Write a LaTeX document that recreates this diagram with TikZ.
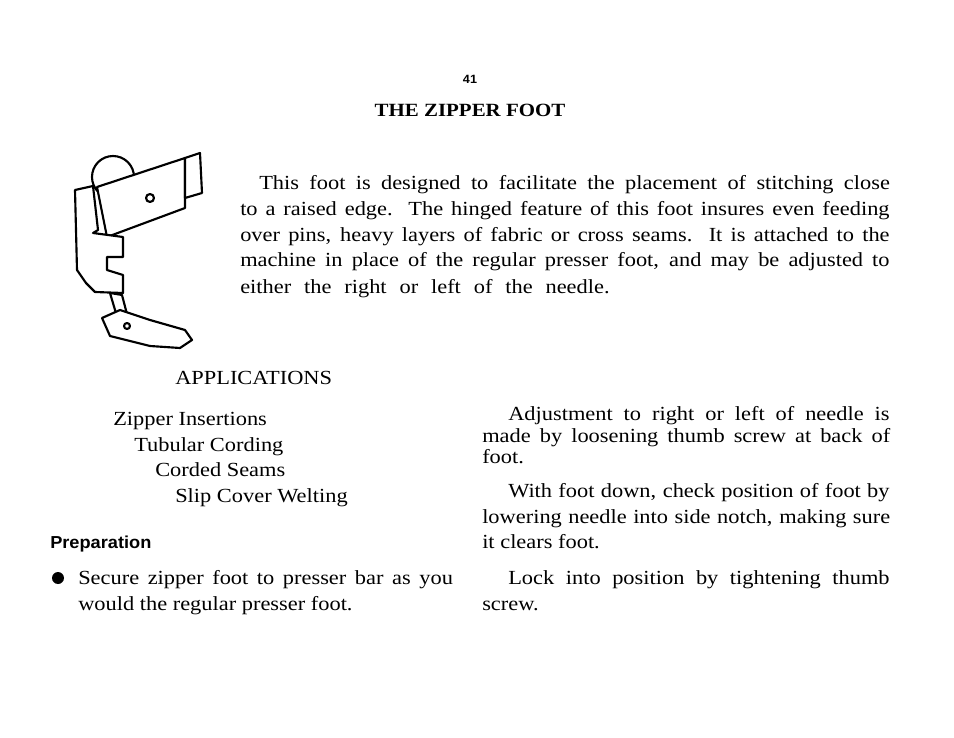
\documentclass[tikz,border=0pt]{standalone}
\usepackage{fontspec}
\setmainfont[FakeStretch=1.12]{Liberation Serif}
\setsansfont[FakeStretch=1.05]{Liberation Sans}
\tikzset{
  txt/.style={anchor=base west, inner sep=0pt, font=\fontsize{15}{18}\selectfont},
  part/.style={draw=black, line width=1.6pt, fill=white, line join=round}
}
\newcommand{\spread}[2]{\hbox to #1{\spaceskip=0.25em plus 1fil minus 0.1em\relax #2}}
\begin{document}
\begin{tikzpicture}[x=0.75pt,y=-0.75pt]
\useasboundingbox (0,0) rectangle (954,738);
% page heading
\node[anchor=base, inner sep=0pt, font=\sffamily\bfseries\small] (pagenum) at (470,84) {41};
\node[anchor=base, inner sep=0pt, font=\bfseries\fontsize{14}{18}\selectfont] (title) at (470,117) {THE ZIPPER FOOT};

% the zipper foot
\draw[part] (113,177) circle (21);
\draw[part] (97,187) -- (185,158) -- (185,208) -- (107,237) -- cycle;
\draw[part] (185,158) -- (200,153) -- (202,193) -- (185,198) -- cycle;
\draw[part] (150,198) circle (4);
\draw[part] (75,190) -- (93,186) -- (98,230) -- (93,233) -- (123,237) -- (123,257) -- (107,257)
  -- (107,270) -- (123,275) -- (123,293) -- (95,292) -- (86,283) -- (77,270) -- cycle;
\draw[part] (110,293) -- (122,295) -- (128,318) -- (118,320) -- cycle;
\draw[part] (102,318) -- (120,310) -- (150,320) -- (185,330) -- (192,340) -- (180,348)
  -- (150,346) -- (110,336) -- cycle;
\draw[part] (127,326) circle (3);

% description
\node[txt] (p1) at (259,190) {\spread{473pt}{This foot is designed to facilitate the placement of stitching close}};
\node[txt] (p2) at (240,216) {\spread{487pt}{to a raised edge.\ \ The hinged feature of this foot insures even feeding}};
\node[txt] (p3) at (240,242) {\spread{487pt}{over pins, heavy layers of fabric or cross seams.\ \ It is attached to the}};
\node[txt] (p4) at (240,267) {\spread{487pt}{machine in place of the regular presser foot, and may be adjusted to}};
\node[txt] (p5) at (240,293) {\spread{277pt}{either the right or left of the needle.}};

% applications
\node[txt] (apps) at (175,384) {APPLICATIONS};
\node[txt] (a1) at (113,425) {Zipper Insertions};
\node[txt] (a2) at (134,451) {Tubular Cording};
\node[txt] (a3) at (155,476) {Corded Seams};
\node[txt] (a4) at (175,502) {Slip Cover Welting};

% preparation
\node[txt, font=\sffamily\bfseries\fontsize{13}{16}\selectfont] (prep) at (50,548) {Preparation};
\fill (58,578) circle (6);
\node[txt] (b1) at (78,584) {\spread{281pt}{Secure zipper foot to presser bar as you}};
\node[txt] (b2) at (78,610) {would the regular presser foot.};

% adjustment
\node[txt] (r1) at (508,420) {\spread{286pt}{Adjustment to right or left of needle is}};
\node[txt] (r2) at (482,442) {\spread{306pt}{made by loosening thumb screw at back of}};
\node[txt] (r3) at (482,463) {foot.};
\node[txt] (r4) at (508,497) {\spread{286pt}{With foot down, check position of foot by}};
\node[txt] (r5) at (482,523) {\spread{306pt}{lowering needle into side notch, making sure}};
\node[txt] (r6) at (482,548) {it clears foot.};
\node[txt] (r7) at (508,584) {\spread{286pt}{Lock into position by tightening thumb}};
\node[txt] (r8) at (482,610) {screw.};
\end{tikzpicture}
\end{document}
